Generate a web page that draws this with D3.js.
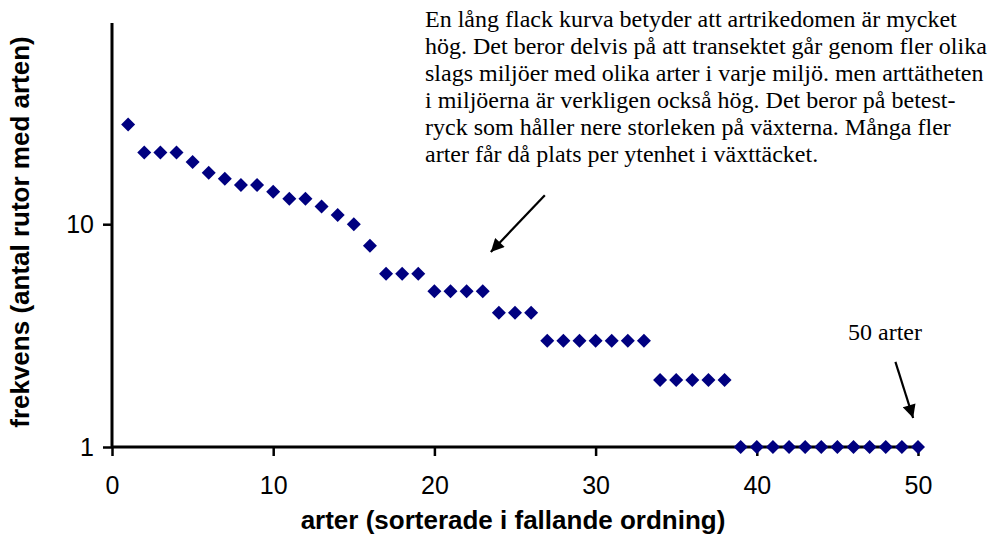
<!DOCTYPE html>
<html>
<head>
<meta charset="utf-8">
<script src="https://cdn.jsdelivr.net/npm/d3@7"></script>
<style>
  body { margin: 0; background: #fff; }
  svg { display: block; }
  .tick text { font-family: "Liberation Sans", Arial, sans-serif; font-size: 25px; fill: #000; }
  .axis-title { font-family: "Liberation Sans", Arial, sans-serif; font-size: 26px; font-weight: bold; }
  .note { font-family: "Liberation Serif", "Times New Roman", serif; font-size: 24px; }
</style>
</head>
<body>
<div id="chart"></div>
<script>
// rank of each species (1..50)
var arter = d3.range(1, 51);
// number of squares where the species occurs, sorted descending
var frekvens = [28, 21, 21, 21, 19, 17, 16, 15, 15, 14,
                13, 13, 12, 11, 10, 8, 6, 6, 6, 5,
                5, 5, 5, 4, 4, 4, 3, 3, 3, 3,
                3, 3, 3, 2, 2, 2, 2, 2, 1, 1,
                1, 1, 1, 1, 1, 1, 1, 1, 1, 1];
var xTicks = [0, 10, 20, 30, 40, 50];
var yTicks = [1, 10];

var noteLines = [
  "En lång flack kurva betyder att artrikedomen är mycket",
  "hög. Det beror delvis på att transektet går genom fler olika",
  "slags miljöer med olika arter i varje miljö. men arttätheten",
  "i miljöerna är verkligen också hög. Det beror på betest-",
  "ryck som håller nere storleken på växterna. Många fler",
  "arter får då plats per ytenhet i växttäcket."
];

// set the dimensions and margins of the graph
var margin = {top: 23, right: 74, bottom: 95, left: 112},
    width = 992 - margin.left - margin.right,
    height = 542 - margin.top - margin.bottom;

var x = d3.scaleLinear().domain([0, 50]).range([0, 806]);
var y = d3.scaleLog().domain([1, 80]).range([height, 0]);

var svg = d3.select("#chart").append("svg")
    .attr("width", 992)
    .attr("height", 542)
  .append("g")
    .attr("transform", "translate(" + margin.left + "," + margin.top + ")");

// X axis
var xAxis = svg.append("g")
    .attr("transform", "translate(0," + height + ")")
    .call(d3.axisBottom(x).tickValues(xTicks).tickSize(9).tickPadding(20).tickFormat(d3.format("d")));
xAxis.select(".domain").attr("stroke-width", 3).attr("d", "M0,0H" + x(50));
xAxis.selectAll(".tick line").attr("stroke-width", 2.5);

// Y axis
var yAxis = svg.append("g")
    .call(d3.axisLeft(y).tickValues(yTicks).tickSize(9).tickPadding(9).tickFormat(d3.format("d")));
yAxis.select(".domain").attr("stroke-width", 3).attr("d", "M0," + height + "V0");
yAxis.selectAll(".tick line").attr("stroke-width", 2.5);

// axis titles
svg.append("text")
    .attr("class", "axis-title")
    .attr("x", 401)
    .attr("y", 529 - margin.top)
    .style("text-anchor", "middle")
    .text("arter (sorterade i fallande ordning)");

svg.append("text")
    .attr("class", "axis-title")
    .attr("transform", "rotate(-90)")
    .attr("x", -(232 - margin.top))
    .attr("y", 29 - margin.left)
    .style("text-anchor", "middle")
    .text("frekvens (antal rutor med arten)");

// the points
var diamond = d3.symbol().type(d3.symbolSquare).size(98);
svg.selectAll(".pt")
    .data(arter)
  .enter().append("path")
    .attr("class", "pt")
    .attr("d", diamond)
    .attr("fill", "#000080")
    .attr("transform", function(d, i) {
      return "translate(" + x(d) + "," + y(frekvens[i]) + ") rotate(45)";
    });

// annotations
svg.append("defs").append("marker")
    .attr("id", "head")
    .attr("viewBox", "0 0 10 10")
    .attr("refX", 10).attr("refY", 5)
    .attr("markerWidth", 7).attr("markerHeight", 6)
    .attr("markerUnits", "strokeWidth")
    .attr("orient", "auto")
  .append("path")
    .attr("d", "M0,0L10,5L0,10z")
    .attr("fill", "#000");

var arrows = [
  {x1: 26.85, y1: 13.5, x2: 23.5, y2: 7.5},
  {x1: 48.6, y1: 2.41, x2: 49.7, y2: 1.35}
];
svg.selectAll(".arrow")
    .data(arrows)
  .enter().append("line")
    .attr("class", "arrow")
    .attr("x1", function(d) { return x(d.x1); })
    .attr("y1", function(d) { return y(d.y1); })
    .attr("x2", function(d) { return x(d.x2); })
    .attr("y2", function(d) { return y(d.y2); })
    .attr("stroke", "#000")
    .attr("stroke-width", 2.2)
    .attr("marker-end", "url(#head)");

var note = svg.append("text")
    .attr("class", "note")
    .attr("x", 425 - margin.left)
    .attr("y", 27 - margin.top);
note.selectAll("tspan")
    .data(noteLines)
  .enter().append("tspan")
    .attr("x", 425 - margin.left)
    .attr("dy", function(d, i) { return i === 0 ? 0 : 27; })
    .text(function(d) { return d; });

svg.append("text")
    .attr("class", "note")
    .attr("x", 885 - margin.left)
    .attr("y", 340 - margin.top)
    .style("text-anchor", "middle")
    .text("50 arter");
</script>
</body>
</html>
